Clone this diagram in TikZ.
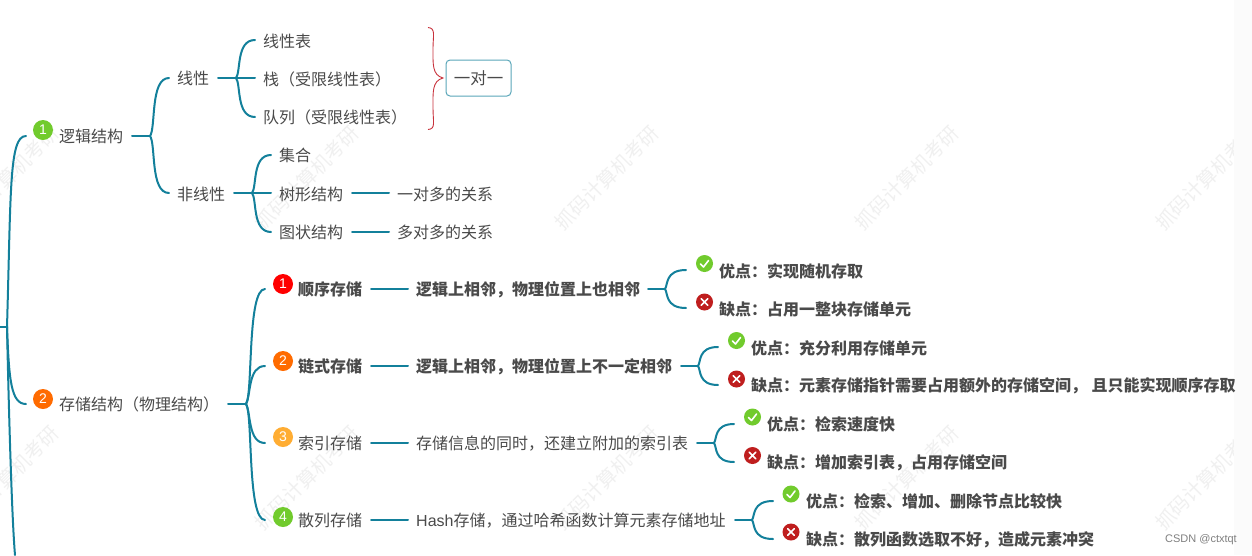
\documentclass[tikz,border=0pt]{standalone}
\usepackage{fontspec}
\setmainfont{Noto Sans CJK SC}
\newfontfamily\latin{Liberation Sans}
\definecolor{teal1}{HTML}{13809B}
\definecolor{txt}{HTML}{4A4A4A}
\definecolor{wm}{HTML}{F0F0F0}
\definecolor{okg}{HTML}{71CB2D}
\definecolor{nor}{HTML}{BF1E1E}
\definecolor{orng}{HTML}{FF6B00}
\definecolor{ambr}{HTML}{FFAD33}
\definecolor{brc}{HTML}{C8323C}
\definecolor{strip}{HTML}{FBFBFB}
\tikzset{
  x=1pt,y=-1pt,
  conn/.style={draw=teal1,line width=2pt,line cap=round},
  lbl/.style={anchor=west,inner sep=0pt,yshift=-0.2pt,text=txt,font=\fontsize{16}{16}\selectfont},
  blbl/.style={lbl,font=\fontsize{16}{16}\bfseries\selectfont},
  wmark/.style={rotate=45,text=wm,inner sep=0pt,font=\fontsize{19.5}{20}\selectfont},
  dot/.style={circle,minimum size=20pt,inner sep=0pt,text=white,font=\latin\fontsize{14}{14}\selectfont},
  okd/.style={circle,fill=okg,minimum size=17pt,inner sep=0pt},
  nod/.style={circle,fill=nor,minimum size=17pt,inner sep=0pt},
}
\newcommand{\okmark}[1]{\draw[white,line width=1.6pt,line cap=round,line join=round] ([shift={(-4,0.5)}]#1.center) -- ([shift={(-1,3.5)}]#1.center) -- ([shift={(4,-3)}]#1.center);}
\newcommand{\nomark}[1]{\draw[white,line width=1.6pt,line cap=round] ([shift={(-3.2,-3.2)}]#1.center) -- ([shift={(3.2,3.2)}]#1.center) ([shift={(3.2,-3.2)}]#1.center) -- ([shift={(-3.2,3.2)}]#1.center);}
\begin{document}
\begin{tikzpicture}
\useasboundingbox (0,0) rectangle (1252,555);
\fill[white] (0,0) rectangle (1252,555);
% watermarks
\foreach \i/\x/\y in {a/7/178,b/307/178,c/607/178,d/907/178,e/1207/178,f/7/478,g/307/478,h/607/478,i/907/478,j/1207/478}
  \node[wmark] (wm\i) at (\x,\y) {抓码计算机考研};
\fill[strip] (1234,0) rectangle (1252,555);
% root trunk
\coordinate (root) at (0,327);
\coordinate (rootj) at (7,327);
\coordinate (e1) at (26,136);
\coordinate (e2) at (26,404);
\coordinate (e3) at (15,555);
\draw[conn] (root) -- (rootj);
\draw[conn] (rootj) .. controls (11,190) and (9,136) .. (e1);
\draw[conn] (rootj) .. controls (9,380) and (11,404) .. (e2);
\draw[conn] (rootj) .. controls (9,420) and (12,520) .. (e3);
% level 1
\node[dot,fill=okg] (n1) at (43,130) {1};
\node[lbl] (t1) at (59,136.5) {逻辑结构};
\node[dot,fill=orng] (n2) at (43,399) {2};
\node[lbl] (t2) at (59,404.5) {存储结构（物理结构）};
% 1 -> linear, nonlinear
\node[lbl] (xx) at (177,78.5) {线性};
\node[lbl] (fx) at (177,194.5) {非线性};
\coordinate (s1) at (132,136);
\coordinate (j1) at (150,136);
\coordinate (a1) at (169,78);
\coordinate (a2) at (169,193);
\draw[conn] (s1) -- (j1);
\draw[conn] (j1) .. controls (156,128) and (150,78) .. (a1);
\draw[conn] (j1) .. controls (156,144) and (150,193) .. (a2);
% linear
\node[lbl] (l1) at (263,41) {线性表};
\node[lbl] (l2) at (263,79) {栈（受限线性表）};
\node[lbl] (l3) at (263,117.5) {队列（受限线性表）};
\coordinate (s2) at (218,78);
\coordinate (j2) at (236,78);
\coordinate (b1) at (255,40);
\coordinate (b2) at (255,78);
\coordinate (b3) at (255,117);
\draw[conn] (s2) -- (b2);
\draw[conn] (j2) .. controls (241,72) and (236,40) .. (b1);
\draw[conn] (j2) .. controls (241,84) and (236,117) .. (b3);
% nonlinear
\node[lbl] (f1) at (279,155.5) {集合};
\node[lbl] (f2) at (279,194.5) {树形结构};
\node[lbl] (f3) at (279,232.5) {图状结构};
\node[lbl] (g2) at (397,194.5) {一对多的关系};
\node[lbl] (g3) at (397,232.5) {多对多的关系};
\coordinate (s3) at (234,193);
\coordinate (j3) at (252,193);
\coordinate (c1) at (271,155);
\coordinate (c2) at (271,193);
\coordinate (c3) at (271,232);
\draw[conn] (s3) -- (c2);
\draw[conn] (j3) .. controls (257,187) and (252,155) .. (c1);
\draw[conn] (j3) .. controls (257,199) and (252,232) .. (c3);
\coordinate (d2a) at (352,193); \coordinate (d2b) at (389,193);
\coordinate (d3a) at (352,232); \coordinate (d3b) at (389,232);
\draw[conn] (d2a) -- (d2b);
\draw[conn] (d3a) -- (d3b);
% brace + box
\coordinate (ba) at (428,27.5);
\coordinate (bb) at (443,78);
\coordinate (bc) at (428,129.5);
\draw[draw=brc,line width=0.9pt] (ba) .. controls (436,28) and (433,36) .. (433,48) .. controls (433,64) and (432,75) .. (bb) .. controls (432,81) and (433,92) .. (433,108) .. controls (433,122) and (436,129) .. (bc);
\node[draw=teal1!70,line width=1pt,rounded corners=4pt,minimum width=65pt,minimum height=36pt,inner sep=0pt,text=txt,font=\fontsize{16.5}{16}\selectfont] (one) at (478.5,78) {一对一};
% level 2 storage
\coordinate (s4) at (228,404);
\coordinate (j4) at (246,404);
\coordinate (h1) at (265,289);
\coordinate (h2) at (265,366);
\coordinate (h3) at (265,443);
\coordinate (h4) at (265,520);
\draw[conn] (s4) -- (j4);
\draw[conn] (j4) .. controls (253,395) and (247,289) .. (h1);
\draw[conn] (j4) .. controls (251,395) and (248,366) .. (h2);
\draw[conn] (j4) .. controls (251,413) and (248,443) .. (h3);
\draw[conn] (j4) .. controls (253,413) and (247,520) .. (h4);
\node[dot,fill=red] (m1) at (283,284) {1};
\node[dot,fill=orng] (m2) at (283,361) {2};
\node[dot,fill=ambr] (m3) at (283,437) {3};
\node[dot,fill=okg] (m4) at (283,517) {4};
\node[blbl] (p1) at (298,289.5) {顺序存储};
\node[blbl] (p2) at (298,366.5) {链式存储};
\node[lbl] (p3) at (298,443.5) {索引存储};
\node[lbl] (p4) at (298,520) {散列存储};
\coordinate (q1a) at (371,289); \coordinate (q1b) at (408,289);
\coordinate (q2a) at (371,366); \coordinate (q2b) at (408,366);
\coordinate (q3a) at (371,443); \coordinate (q3b) at (408,443);
\coordinate (q4a) at (371,520); \coordinate (q4b) at (408,520);
\draw[conn] (q1a) -- (q1b);
\draw[conn] (q2a) -- (q2b);
\draw[conn] (q3a) -- (q3b);
\draw[conn] (q4a) -- (q4b);
\node[blbl] (r1) at (416,289.5) {逻辑上相邻，物理位置上也相邻};
\node[blbl] (r2) at (416,366.5) {逻辑上相邻，物理位置上不一定相邻};
\node[lbl] (r3) at (416,443.5) {存储信息的同时，还建立附加的索引表};
\node[lbl] (r4) at (416,520) {{\latin Hash}存储，通过哈希函数计算元素存储地址};
% forks
\foreach \k/\sx/\jx/\ex/\y in {1/648/665/686/289,2/681/698/718/366,3/697/714/734/443,4/735/752/773/520}{
  \coordinate (fs\k) at (\sx,\y);
  \coordinate (fj\k) at (\jx,\y);
  \coordinate (fu\k) at (\ex,\y-19);
  \coordinate (fd\k) at (\ex,\y+19);
  \draw[conn] (fs\k) -- (fj\k);
  \draw[conn] (fj\k) .. controls (\jx+3,\y-4) and (\jx,\y-19) .. (fu\k);
  \draw[conn] (fj\k) .. controls (\jx+3,\y+4) and (\jx,\y+19) .. (fd\k);
}
% pros/cons
\node[okd] (o1) at (704.5,263.5) {}; \okmark{o1}
\node[nod] (x1) at (704.5,302) {}; \nomark{x1}
\node[okd] (o2) at (736.5,340.5) {}; \okmark{o2}
\node[nod] (x2) at (736.5,379) {}; \nomark{x2}
\node[okd] (o3) at (752.5,417) {}; \okmark{o3}
\node[nod] (x3) at (752.5,455.5) {}; \nomark{x3}
\node[okd] (o4) at (791,494) {}; \okmark{o4}
\node[nod] (x4) at (791,532) {}; \nomark{x4}
\node[blbl] (u1) at (719,271) {优点：实现随机存取};
\node[blbl] (v1) at (719,309.5) {缺点：占用一整块存储单元};
\node[blbl] (u2) at (751,348) {优点：充分利用存储单元};
\node[blbl] (v2) at (751,386) {缺点：元素存储指针需要占用额外的存储空间，\hspace{0.28em}且只能实现顺序存取};
\node[blbl] (u3) at (767,424.5) {优点：检索速度快};
\node[blbl] (v3) at (767,463) {缺点：增加索引表，占用存储空间};
\node[blbl] (u4) at (806,501) {优点：检索、增加、删除节点比较快};
\node[blbl] (v4) at (806,539.5) {缺点：散列函数选取不好，造成元素冲突};
\node[anchor=east,inner sep=0pt,text=black!50,font=\latin\fontsize{11}{11}\selectfont] (csdn) at (1237,540) {CSDN @ctxtqt};
\end{tikzpicture}
\end{document}
